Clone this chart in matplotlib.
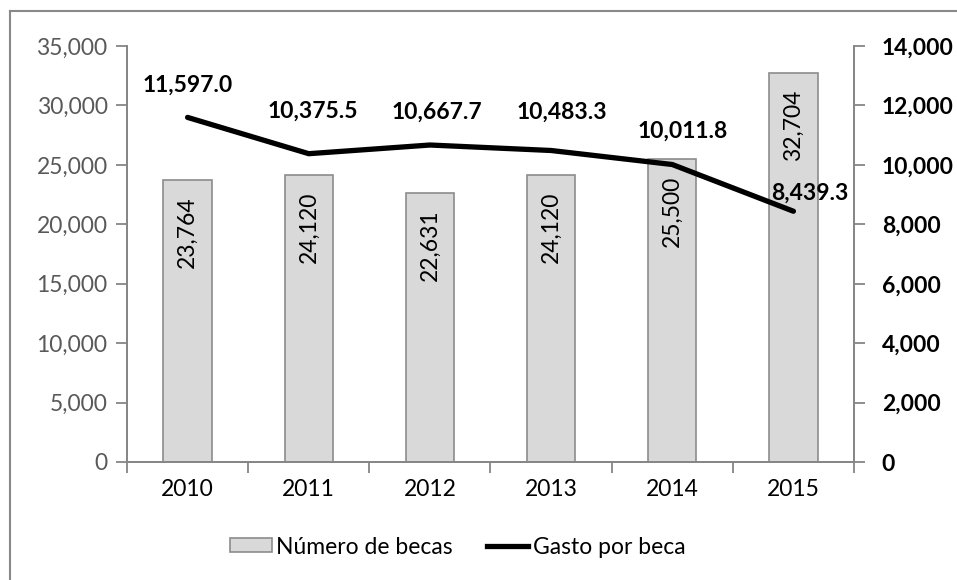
import matplotlib
matplotlib.use("Agg")
import matplotlib.pyplot as plt
from matplotlib.patches import Patch
from matplotlib.lines import Line2D
from matplotlib.ticker import FuncFormatter, MultipleLocator

plt.rcParams['font.family'] = ['Lato', 'DejaVu Sans']

years = ["2010", "2011", "2012", "2013", "2014", "2015"]
num_becas = [23764, 24120, 22631, 24120, 25500, 32704]
gasto_por_beca = [11597.0, 10375.5, 10667.7, 10483.3, 10011.8, 8439.3]
bar_labels = ["23,764", "24,120", "22,631", "24,120", "25,500", "32,704"]
line_labels = ["11,597.0", "10,375.5", "10,667.7", "10,483.3", "10,011.8", "8,439.3"]
# label offsets in pixels (dx, dy) relative to each line point
line_label_offsets = [(0, 32), (4, 42), (7, 33), (11, 38), (10, 33), (16, 18)]

FS = 16.5
GRID_C = "#868686"
W, H = 957, 580
fig = plt.figure(figsize=(W / 100, H / 100), dpi=100)
ax = fig.add_axes([127 / W, 1 - 462 / H, (854 - 127) / W, (462 - 46) / H])
ax2 = ax.twinx()

x = list(range(len(years)))
ax.bar(x, num_becas, width=0.4, color="#d9d9d9", edgecolor="#8c8c8c", linewidth=1.2, zorder=2)
ax.set_xlim(-0.5, len(years) - 0.5)
ax.set_ylim(0, 35000)
ax.yaxis.set_major_locator(MultipleLocator(5000))
ax.yaxis.set_major_formatter(FuncFormatter(lambda v, p: f"{v:,.0f}"))

ax2.plot(x, gasto_por_beca, color="black", linewidth=3.8, solid_capstyle="round", zorder=3)
ax2.set_ylim(0, 14000)
ax2.yaxis.set_major_locator(MultipleLocator(2000))
ax2.yaxis.set_major_formatter(FuncFormatter(lambda v, p: f"{v:,.0f}"))

for a in (ax, ax2):
    for s in a.spines.values():
        s.set_color(GRID_C)
        s.set_linewidth(1.3)
    a.spines["top"].set_visible(False)

ax.set_xticks(x)
ax.set_xticklabels(years, fontsize=FS, color="black")
ax.tick_params(axis="x", which="major", length=0, pad=12)
ax.set_xticks([i - 0.5 for i in range(len(years) + 1)], minor=True)
ax.tick_params(axis="x", which="minor", length=8, width=1.3, color=GRID_C, direction="out")
ax.tick_params(axis="y", length=8, width=1.3, color=GRID_C, labelsize=FS, labelcolor="#595959", pad=6)
ax2.tick_params(axis="y", length=8, width=1.3, color=GRID_C, labelsize=FS, labelcolor="black", pad=12)
for t in ax2.get_yticklabels():
    t.set_fontweight("bold")

for xi, v, lab in zip(x, num_becas, bar_labels):
    ax.annotate(lab, (xi, v), xytext=(0, -12), textcoords="offset points",
                rotation=90, ha="center", va="top", fontsize=FS, color="black", zorder=4)

for xi, v, lab, (dx, dy) in zip(x, gasto_por_beca, line_labels, line_label_offsets):
    ax2.annotate(lab, (xi, v), xytext=(dx * 0.72, dy * 0.72), textcoords="offset points",
                 ha="center", va="center", fontsize=FS, fontweight="bold", color="black", zorder=5)

handles = [Patch(facecolor="#d9d9d9", edgecolor="#8c8c8c", linewidth=1.2),
           Line2D([0], [0], color="black", linewidth=3.8)]
fig.legend(handles, ["Número de becas", "Gasto por beca"], loc="center",
           bbox_to_anchor=(458 / W, 1 - 547 / H), ncol=2, frameon=False, fontsize=FS,
           handlelength=1.8, handleheight=0.55, handletextpad=0.2, columnspacing=1.5)

# outer chart frame (partly cropped)
fig.add_artist(Line2D([10 / W, 1], [1 - 11 / H, 1 - 11 / H], color="#898989", linewidth=1.5))
fig.add_artist(Line2D([10 / W, 10 / W], [0, 1 - 11 / H], color="#898989", linewidth=1.5))

fig.savefig("out.png", dpi=100)
